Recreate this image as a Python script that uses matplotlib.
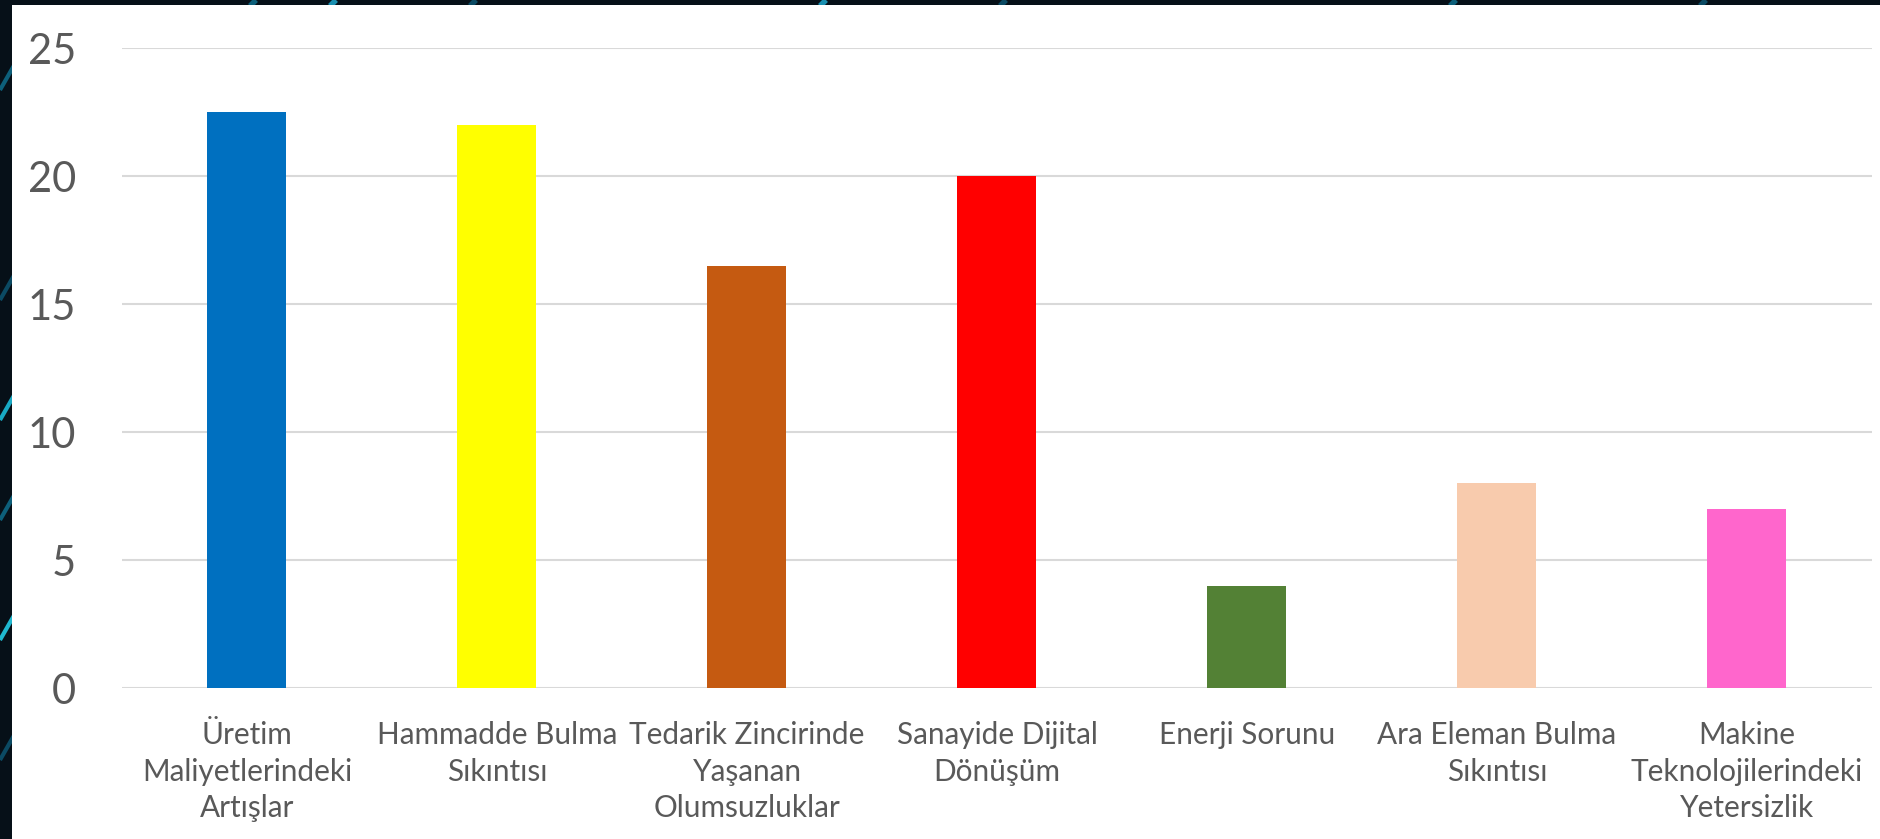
import matplotlib.pyplot as plt
from matplotlib.patches import Rectangle

categories = [
    'Üretim\nMaliyetlerindeki\nArtışlar',
    'Hammadde Bulma\nSıkıntısı',
    'Tedarik Zincirinde\nYaşanan\nOlumsuzluklar',
    'Sanayide Dijital\nDönüşüm',
    'Enerji Sorunu',
    'Ara Eleman Bulma\nSıkıntısı',
    'Makine\nTeknolojilerindeki\nYetersizlik',
]
values = [22.5, 22, 16.5, 20, 4, 8, 7]
colors = ['#0070C0', '#FFFF00', '#C55A11', '#FF0000', '#538135', '#F8CBAD', '#FF66CC']
y_ticks = [0, 5, 10, 15, 20, 25]

plt.rcParams['font.family'] = ['Lato', 'DejaVu Sans']

fig = plt.figure(figsize=(18.81, 8.39), dpi=100, facecolor='#061018')

# dark slide background with a few teal streaks, white chart panel on top
bg = fig.add_axes([0, 0, 1, 1], zorder=0)
bg.set_xlim(0, 1881)
bg.set_ylim(839, 0)
bg.axis('off')
for y0, c in [(90, '#0d5f7a'), (300, '#0b4a63'), (420, '#18a9c4'), (520, '#0d5f7a'),
              (640, '#1fb8d0'), (760, '#0b4a63')]:
    bg.plot([0, 40], [y0, y0 - 70], color=c, lw=3, solid_capstyle='butt', zorder=1)
for x0, c in [(250, '#0d5f7a'), (330, '#1a8fb0'), (470, '#0b4a63'), (820, '#1a8fb0'),
              (1000, '#0b4a63'), (1450, '#0d5f7a'), (1700, '#0b4a63')]:
    bg.plot([x0, x0 + 6], [6, 0], color=c, lw=4, solid_capstyle='butt', zorder=1)
bg.add_patch(Rectangle((12, 5), 1881 - 12, 839 - 5, facecolor='white',
                       edgecolor='none', zorder=5))

ax = fig.add_axes([122 / 1881, 1 - 688 / 839, 1750 / 1881, 640 / 839], zorder=1)
ax.patch.set_alpha(0)
x = range(len(categories))
ax.bar(x, values, width=0.316, color=colors, zorder=3)

ax.set_xlim(-0.5, len(categories) - 0.5)
ax.set_ylim(0, 25)
ax.set_yticks(y_ticks)
ax.set_xticks(list(x))
ax.set_xticklabels(categories, fontsize=21.4, color='#595959', linespacing=1.36)
ax.tick_params(axis='x', length=0, pad=24)
ax.tick_params(axis='y', length=0, pad=33, labelsize=30, labelcolor='#595959')
ax.grid(axis='y', color='#D9D9D9', linewidth=1.5, zorder=0)
for s in ax.spines.values():
    s.set_visible(False)

fig.savefig('out.png', dpi=100, facecolor=fig.get_facecolor())
plt.close(fig)
